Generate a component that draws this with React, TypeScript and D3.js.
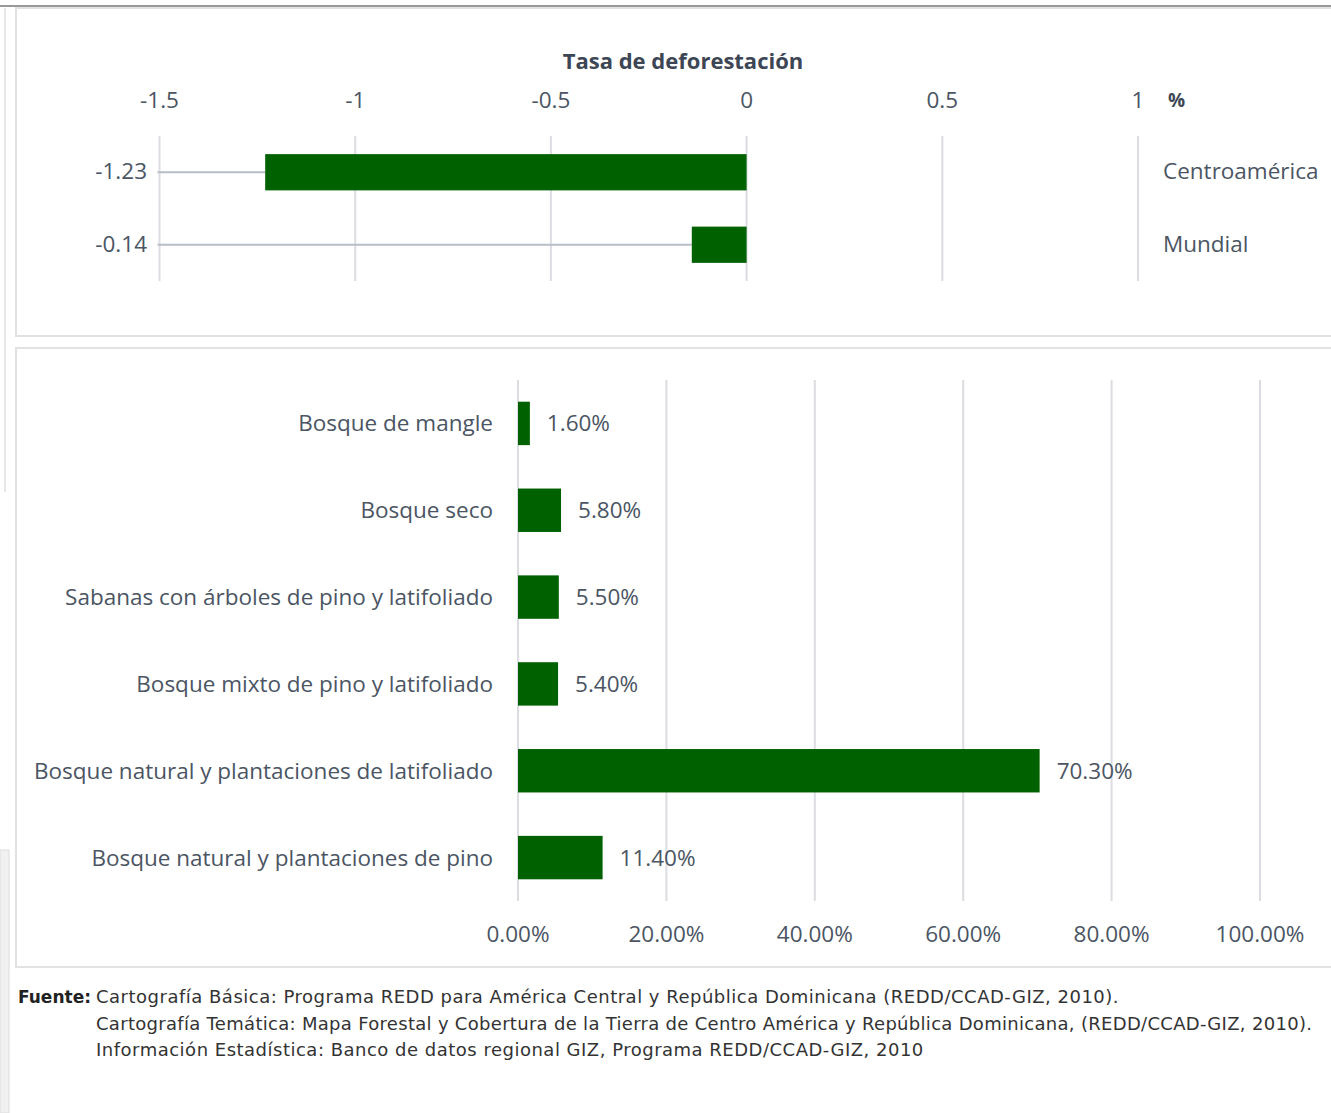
import * as d3 from "d3";
import React, { useEffect, useRef } from "react";

const regions = ["Centroamérica", "Mundial"];
const rates = [-1.23, -0.14];
const rateTicks = [-1.5, -1, -0.5, 0, 0.5, 1];

const forestTypes = [
  "Bosque de mangle",
  "Bosque seco",
  "Sabanas con árboles de pino y latifoliado",
  "Bosque mixto de pino y latifoliado",
  "Bosque natural y plantaciones de latifoliado",
  "Bosque natural y plantaciones de pino",
];
const shares = [1.6, 5.8, 5.5, 5.4, 70.3, 11.4];
const shareTicks = [0, 20, 40, 60, 80, 100];

const sources = [
  "Cartografía Básica: Programa REDD para América Central y República Dominicana (REDD/CCAD-GIZ, 2010).",
  "Cartografía Temática: Mapa Forestal y Cobertura de la Tierra de Centro América y República Dominicana, (REDD/CCAD-GIZ, 2010).",
  "Información Estadística: Banco de datos regional GIZ, Programa REDD/CCAD-GIZ, 2010",
];

const W = 1331;
const H = 1113;
const green = "#006100";
const textColor = "#4b5563";
const grid = "#dcdde2";
const font = "'Open Sans', Lato, sans-serif";
const fs = "22.5px";

const App = () => {
  const svgRef = useRef(null);

  useEffect(() => {
    document.body.style.margin = "0";
    const svg = d3.select(svgRef.current);
    svg.selectAll("*").remove();
    svg.attr("width", W).attr("height", H).style("background", "#fff");

    // page frame bits
    svg.append("line").attr("x1", 0).attr("x2", W).attr("y1", 6).attr("y2", 6)
      .attr("stroke", "#777").attr("stroke-width", 1.5);
    svg.append("line").attr("x1", 5).attr("x2", 5).attr("y1", 8).attr("y2", 492)
      .attr("stroke", "#d0d0d0");
    svg.append("rect").attr("x", 0).attr("y", 850).attr("width", 9).attr("height", 263)
      .attr("fill", "#f0f0f0").attr("stroke", "#dedede");

    // panels
    svg.append("rect").attr("x", 16).attr("y", 8).attr("width", W).attr("height", 328)
      .attr("fill", "#fff").attr("stroke", "#e2e2e2").attr("stroke-width", 2);
    svg.append("rect").attr("x", 16).attr("y", 348).attr("width", W).attr("height", 619)
      .attr("fill", "#fff").attr("stroke", "#e2e2e2").attr("stroke-width", 2);

    // ---- top chart
    const x1 = d3.scaleLinear().domain([-1.5, 1]).range([159.5, 1138]);
    const y1 = d3.scaleBand().domain(regions).range([136, 281]).paddingInner(0.5).paddingOuter(0.25);
    const top = svg.append("g");

    top.append("text").text("Tasa de deforestación")
      .attr("x", 683).attr("y", 63).attr("text-anchor", "middle").attr("dominant-baseline", "middle")
      .style("font-family", font).style("font-weight", 700).style("font-size", "22px").attr("fill", "#3d4654");

    top.selectAll(".g1").data(rateTicks).join("line")
      .attr("x1", (d) => x1(d)).attr("x2", (d) => x1(d))
      .attr("y1", 136).attr("y2", 281).attr("stroke", grid).attr("stroke-width", 2);

    top.selectAll(".t1").data(rateTicks).join("text")
      .text((d) => String(d))
      .attr("x", (d) => x1(d)).attr("y", 102)
      .attr("text-anchor", "middle").attr("dominant-baseline", "middle")
      .style("font-family", font).style("font-size", fs).attr("fill", textColor);

    top.append("text").text("%").attr("x", 1168).attr("y", 102)
      .attr("dominant-baseline", "middle")
      .style("font-family", font).style("font-weight", 700).style("font-size", "19px").attr("fill", "#3d4654");

    const cy = (r: string) => (y1(r) as number) + y1.bandwidth() / 2;

    top.selectAll(".ln").data(regions).join("line")
      .attr("x1", x1(-1.5) - 2).attr("x2", (_d, i) => x1(rates[i]))
      .attr("y1", cy).attr("y2", cy).attr("stroke", "#b7bec8").attr("stroke-width", 2);

    top.selectAll(".b1").data(regions).join("rect")
      .attr("x", (_d, i) => x1(rates[i])).attr("width", (_d, i) => x1(0) - x1(rates[i]))
      .attr("y", (d) => y1(d) as number).attr("height", y1.bandwidth()).attr("fill", green);

    top.selectAll(".v1").data(regions).join("text")
      .text((_d, i) => rates[i].toFixed(2))
      .attr("x", 147).attr("y", (d) => cy(d) + 1)
      .attr("text-anchor", "end").attr("dominant-baseline", "middle")
      .style("font-family", font).style("font-size", fs).attr("fill", textColor);

    top.selectAll(".c1").data(regions).join("text")
      .text((d) => d)
      .attr("x", 1163).attr("y", (d) => cy(d) + 1)
      .attr("dominant-baseline", "middle")
      .style("font-family", font).style("font-size", fs).attr("fill", textColor);

    // ---- bottom chart
    const x2 = d3.scaleLinear().domain([0, 100]).range([518, 1260]);
    const y2 = d3.scaleBand().domain(forestTypes).range([380, 901]).paddingInner(0.5).paddingOuter(0.25);
    const bot = svg.append("g");

    bot.selectAll(".g2").data(shareTicks).join("line")
      .attr("x1", (d) => x2(d)).attr("x2", (d) => x2(d))
      .attr("y1", 380).attr("y2", 901).attr("stroke", grid).attr("stroke-width", 2);

    bot.selectAll(".t2").data(shareTicks).join("text")
      .text((d) => d.toFixed(2) + "%")
      .attr("x", (d) => x2(d)).attr("y", 936)
      .attr("text-anchor", "middle").attr("dominant-baseline", "middle")
      .style("font-family", font).style("font-size", fs).attr("fill", textColor);

    const cy2 = (c: string) => (y2(c) as number) + y2.bandwidth() / 2 + 2;

    bot.selectAll(".b2").data(forestTypes).join("rect")
      .attr("x", x2(0)).attr("width", (_d, i) => x2(shares[i]) - x2(0))
      .attr("y", (d) => y2(d) as number).attr("height", y2.bandwidth()).attr("fill", green);

    bot.selectAll(".c2").data(forestTypes).join("text")
      .text((d) => d)
      .attr("x", 493).attr("y", cy2)
      .attr("text-anchor", "end").attr("dominant-baseline", "middle")
      .style("font-family", font).style("font-size", fs).attr("fill", textColor);

    bot.selectAll(".v2").data(forestTypes).join("text")
      .text((_d, i) => shares[i].toFixed(2) + "%")
      .attr("x", (_d, i) => x2(shares[i]) + 17).attr("y", cy2)
      .attr("dominant-baseline", "middle")
      .style("font-family", font).style("font-size", fs).attr("fill", textColor);

    // ---- footer
    const foot = svg.append("g").style("font-family", "'DejaVu Sans', sans-serif");
    foot.append("text").text("Fuente:").attr("x", 18).attr("y", 1003)
      .style("font-weight", 700).style("font-size", "17px").attr("fill", "#222");
    foot.selectAll(".s").data(sources).join("text")
      .text((d) => d)
      .attr("x", 96).attr("y", (_d, i) => 1003 + i * 26.5)
      .style("font-size", "18px")
      .style("letter-spacing", (_d, i) => (i === 1 ? "0.3px" : "0.5px"))
      .attr("fill", "#333");
  }, []);

  return <svg ref={svgRef}></svg>;
};

export default App;
